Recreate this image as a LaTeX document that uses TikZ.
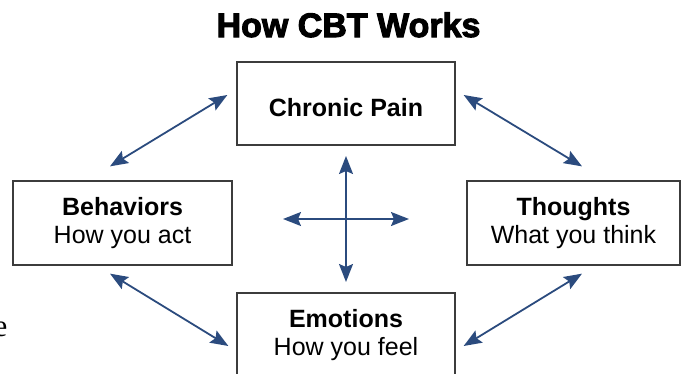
\documentclass[tikz,border=0pt]{standalone}
\usepackage{fontspec}
\setmainfont{Liberation Sans}
\newfontfamily\headfont{Liberation Sans}[BoldFeatures={FakeBold=3}]
\newfontfamily\serifpart{Liberation Serif}
\usetikzlibrary{arrows.meta}
\usetikzlibrary{calc}

\definecolor{linkblue}{HTML}{2B4B7E}
\definecolor{boxgray}{HTML}{3C3C3C}

\begin{document}
\begin{tikzpicture}[
  x=1pt,y=-1pt,
  every node/.style={align=center,inner sep=0pt},
  heading/.style={font=\headfont\bfseries\fontsize{34}{36}\selectfont},
  box/.style={draw=boxgray,line width=1.3pt,fill=white,minimum height=84pt,
    font=\fontsize{25}{28}\selectfont,
    execute at begin node={\rule{0pt}{26pt}}},
  link/.style={<->,>={Stealth[length=18pt,width=14pt,inset=3pt]},
    color=linkblue,line width=1.8pt}]

  \useasboundingbox (0,0) rectangle (681,373);

  % Title and the four boxes
  \node[heading,anchor=base] (title) at (348.5,37) {How CBT Works};
  \node[box,minimum width=218pt,minimum height=83pt] (pain) at (346,103.5)
    {\textbf{Chronic Pain}};
  \node[box,minimum width=219pt] (behav) at (122.5,223)
    {\textbf{Behaviors}\\How you act};
  \node[box,minimum width=213pt] (thought) at (573.5,223)
    {\textbf{Thoughts}\\What you think};
  \node[box,minimum width=218pt] (emo) at (346,335)
    {\textbf{Emotions}\\How you feel};

  % stray letter cut by the left margin
  \node[font=\serifpart\fontsize{31}{31}\selectfont,anchor=base east] (cut)
    at (7.5,336) {e};

  % Draw the two-way arrows between the boxes
  \draw[link] ([shift={(-12.5,-14)}]behav.north) -- ([shift={(-9,-8.5)}]pain.west);
  \draw[link] ([shift={(8,-8.5)}]pain.east) -- ([shift={(8.5,-14)}]thought.north);
  \draw[link] ([shift={(8.5,8)}]thought.south) -- ([shift={(8,11)}]emo.east);
  \draw[link] ([shift={(-12.5,8)}]behav.south) -- ([shift={(-8,11)}]emo.west);

  % the cross in the middle
  \coordinate (hub) at ($(pain.south)!0.5!(emo.north)$);
  \draw[link] ([shift={(0,-63)}]hub) -- ([shift={(0,63)}]hub);
  \draw[link] ([shift={(-63,0)}]hub) -- ([shift={(63,0)}]hub);
\end{tikzpicture}
\end{document}
